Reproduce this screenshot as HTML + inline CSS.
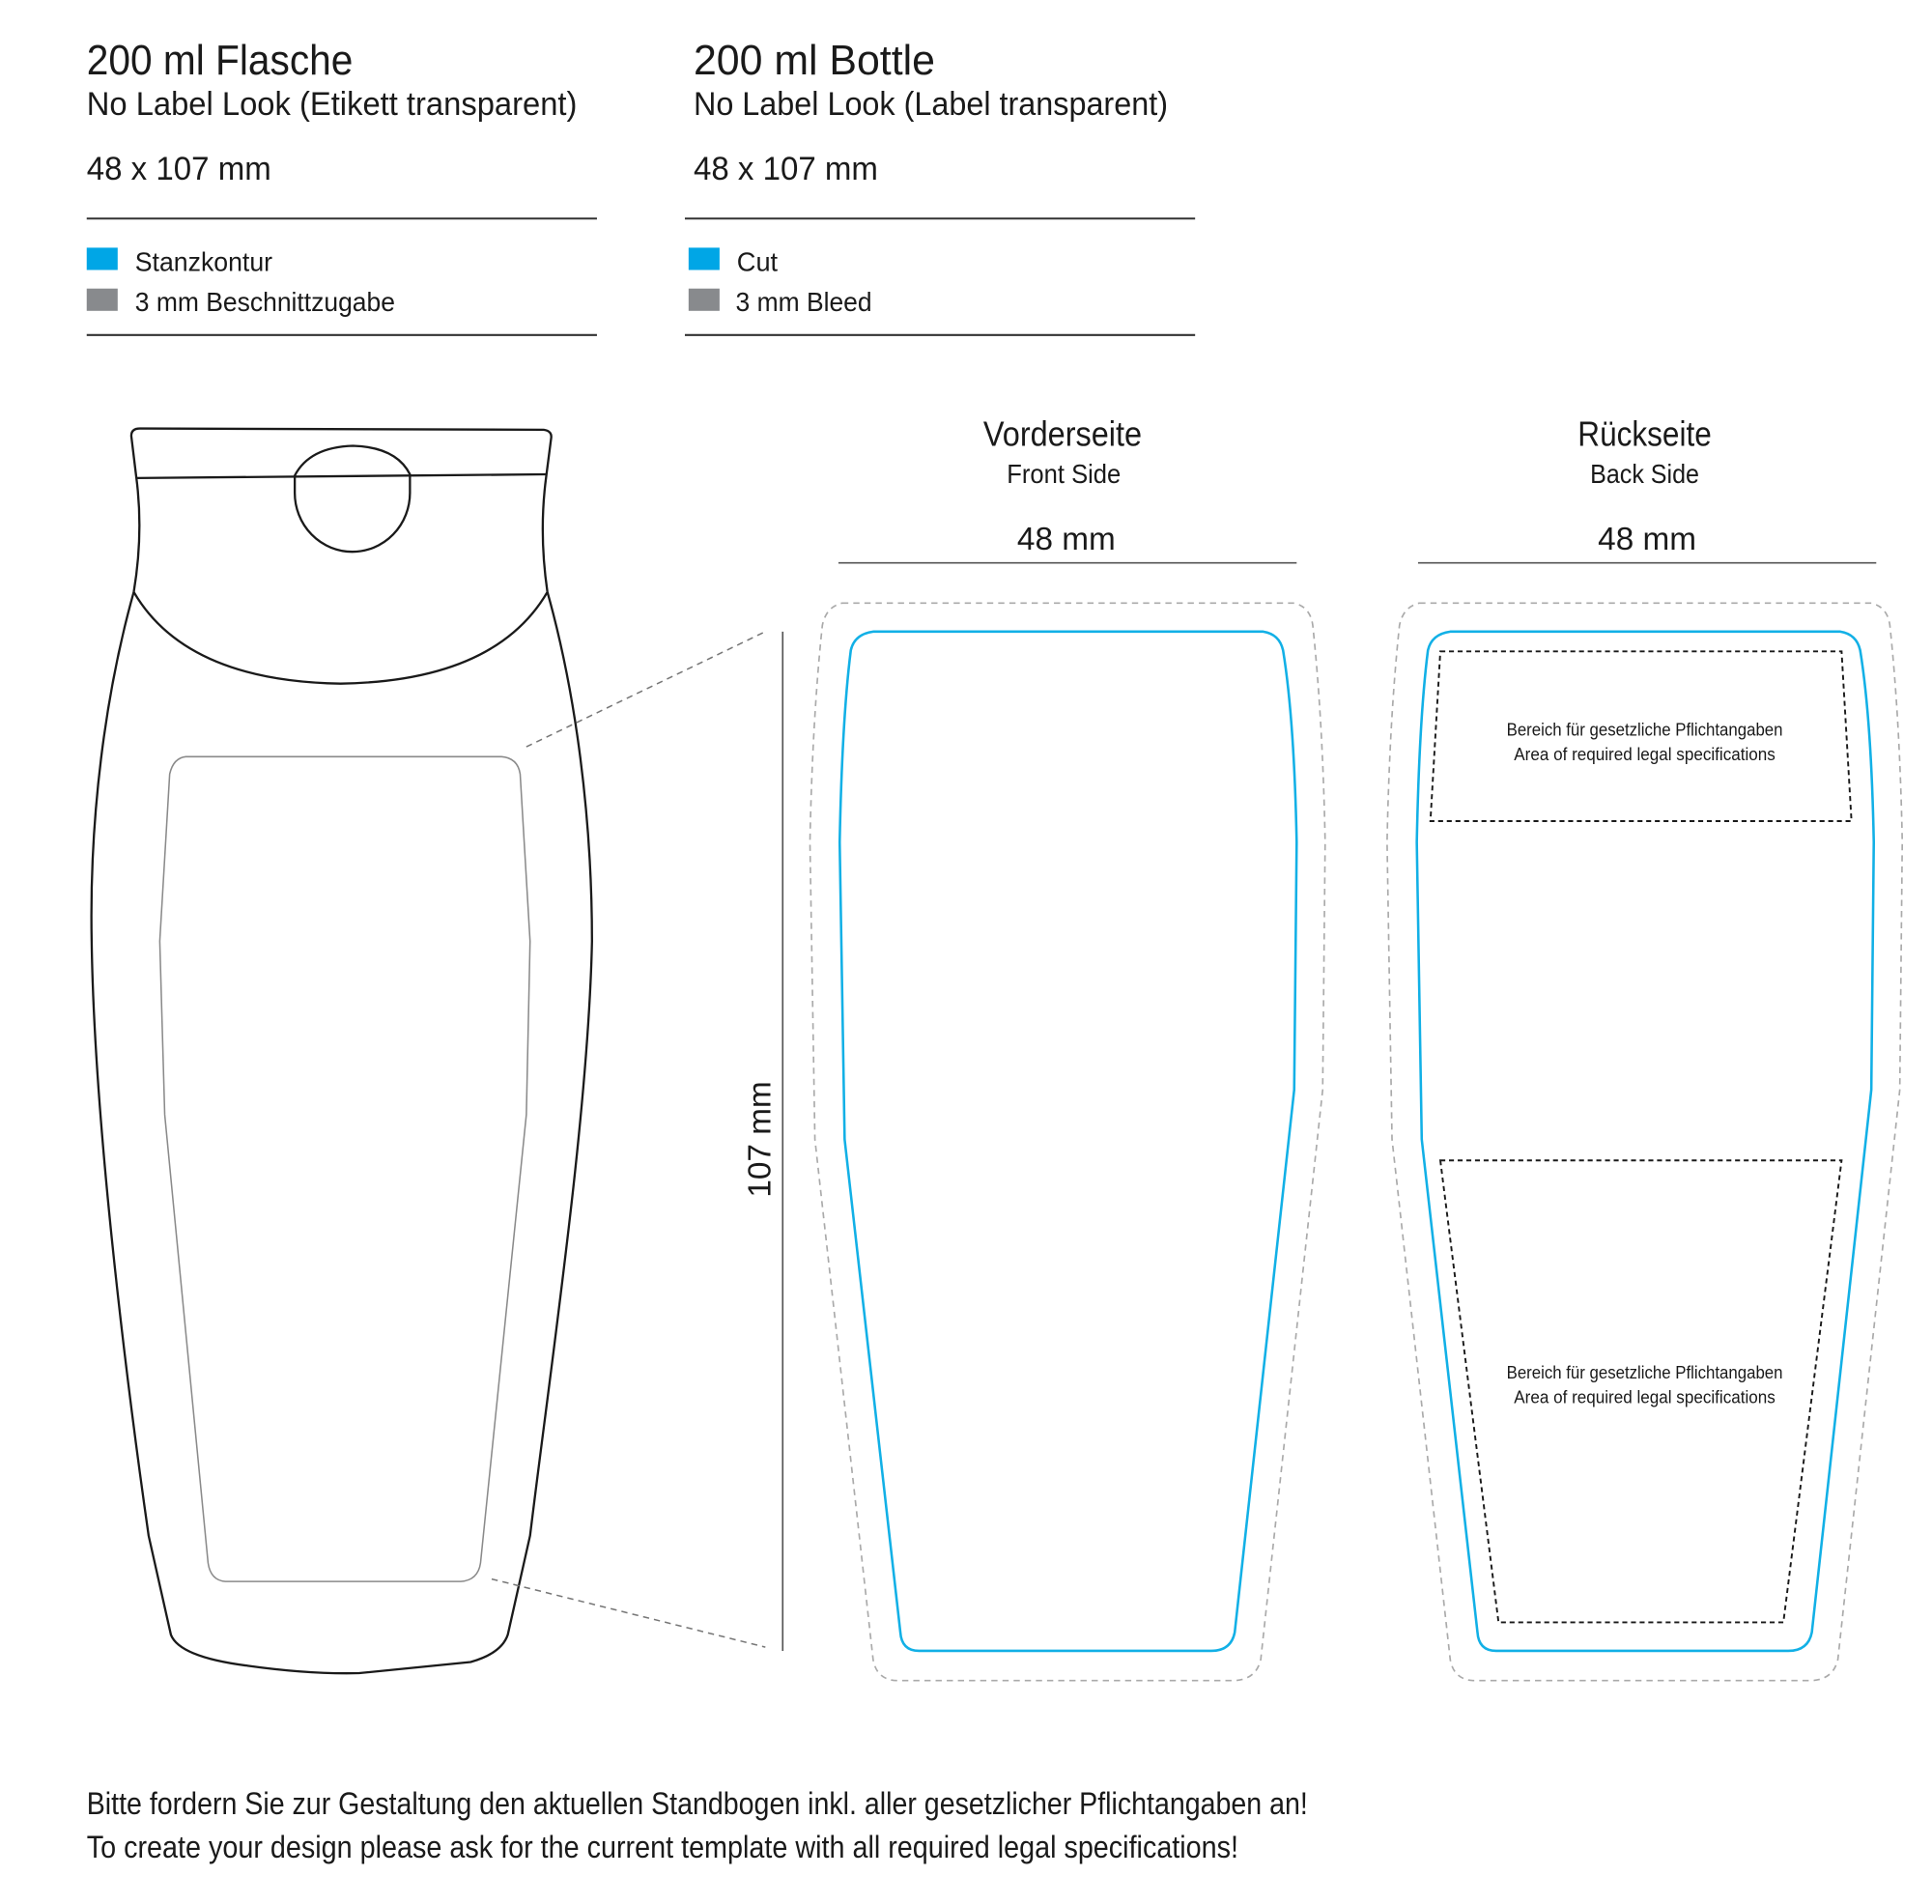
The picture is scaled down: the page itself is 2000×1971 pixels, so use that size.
<!DOCTYPE html>
<html><head><meta charset="utf-8"><style>
html,body{margin:0;padding:0;background:#fff;}
svg{display:block;}
.n{font-family:"Liberation Sans Narrow","Liberation Sans",sans-serif;fill:#1a1a1a;}
.r{font-family:"Liberation Sans",sans-serif;fill:#1a1a1a;}
</style></head><body>
<svg width="2000" height="1971" viewBox="0 0 1560 1537.4" xmlns="http://www.w3.org/2000/svg">
<rect width="1560" height="1538" fill="#fff"/>
<!-- header col 1 -->
<text class="n" x="70" y="60" font-size="34" textLength="215" lengthAdjust="spacingAndGlyphs">200 ml Flasche</text>
<text class="n" x="70" y="93" font-size="27" textLength="396" lengthAdjust="spacingAndGlyphs">No Label Look (Etikett transparent)</text>
<text class="n" x="70" y="145" font-size="27" textLength="149" lengthAdjust="spacingAndGlyphs">48 x 107 mm</text>
<line x1="70" y1="176.5" x2="482" y2="176.5" stroke="#333" stroke-width="1.6"/>
<rect x="70" y="200" width="25" height="18" fill="#00a6e6"/>
<text class="n" x="109" y="219" font-size="22" textLength="111" lengthAdjust="spacingAndGlyphs">Stanzkontur</text>
<rect x="70" y="233" width="25" height="18" fill="#888a8d"/>
<text class="n" x="109" y="251" font-size="22" textLength="210" lengthAdjust="spacingAndGlyphs">3 mm Beschnittzugabe</text>
<line x1="70" y1="270.5" x2="482" y2="270.5" stroke="#333" stroke-width="1.6"/>
<!-- header col 2 -->
<text class="n" x="560" y="60" font-size="34" textLength="195" lengthAdjust="spacingAndGlyphs">200 ml Bottle</text>
<text class="n" x="560" y="93" font-size="27" textLength="383" lengthAdjust="spacingAndGlyphs">No Label Look (Label transparent)</text>
<text class="n" x="560" y="145" font-size="27" textLength="149" lengthAdjust="spacingAndGlyphs">48 x 107 mm</text>
<line x1="553" y1="176.5" x2="965" y2="176.5" stroke="#333" stroke-width="1.6"/>
<rect x="556" y="200" width="25" height="18" fill="#00a6e6"/>
<text class="n" x="595" y="219" font-size="22" textLength="33" lengthAdjust="spacingAndGlyphs">Cut</text>
<rect x="556" y="233" width="25" height="18" fill="#888a8d"/>
<text class="n" x="594" y="251" font-size="22" textLength="110" lengthAdjust="spacingAndGlyphs">3 mm Bleed</text>
<line x1="553" y1="270.5" x2="965" y2="270.5" stroke="#333" stroke-width="1.6"/>

<!-- bottle -->
<g fill="none" stroke="#1a1a1a" stroke-width="1.8">
<path d="M108,478 Q116,430 110,385 L106,352 Q106,346 113,346 L439,347 Q446,348 445,354 L441,385 Q435,430 442,478"/>
<line x1="110" y1="386" x2="441" y2="383"/>
<path d="M238,384 Q250,361 285,360 Q320,361 331,383 L331,398 A46,47 0 0 1 238,398 Z"/>
<path d="M108,478 Q150,550 275,552 Q400,550 442,478"/>
<path d="M108,478 C85,560 72,660 74,760 C76,900 100,1100 120,1240 L138,1320 Q145,1338 200,1345 Q250,1352 290,1351 L380,1342 Q405,1335 410,1320 L428,1240 C445,1100 475,900 478,760 C478,660 465,560 442,478"/>
</g>
<path d="M150,611 L405,611 Q418,612 420,625 L428,760 L425,900 L388,1262 Q386,1276 372,1277 L182,1277 Q170,1276 168,1262 L133,900 L129,760 L137,625 Q140,612 150,611 Z" fill="none" stroke="#8a8a8a" stroke-width="1.2"/>
<g stroke="#777" stroke-width="1.2" stroke-dasharray="5,4">
<line x1="425" y1="603" x2="618" y2="510"/>
<line x1="397" y1="1275" x2="618" y2="1330"/>
</g>
<line x1="632" y1="510" x2="632" y2="1333" stroke="#555" stroke-width="1.3"/>
<text class="r" x="0" y="0" font-size="26" text-anchor="middle" transform="translate(622,920) rotate(-90)">107 mm</text>

<!-- labels headings -->
<text class="n" x="858" y="360" font-size="28" text-anchor="middle" textLength="128" lengthAdjust="spacingAndGlyphs">Vorderseite</text>
<text class="n" x="859" y="390" font-size="22" text-anchor="middle" textLength="92" lengthAdjust="spacingAndGlyphs">Front Side</text>
<text class="r" x="861" y="444" font-size="26" text-anchor="middle">48 mm</text>
<line x1="677" y1="454.5" x2="1047" y2="454.5" stroke="#555" stroke-width="1.3"/>
<text class="n" x="1328" y="360" font-size="28" text-anchor="middle" textLength="108" lengthAdjust="spacingAndGlyphs">Rückseite</text>
<text class="n" x="1328" y="390" font-size="22" text-anchor="middle" textLength="88" lengthAdjust="spacingAndGlyphs">Back Side</text>
<text class="r" x="1330" y="444" font-size="26" text-anchor="middle">48 mm</text>
<line x1="1145" y1="454.5" x2="1515" y2="454.5" stroke="#555" stroke-width="1.3"/>

<!-- shapes -->
<g id="lab">
<path d="M680,487 L1045,487 Q1058,490 1060,505 Q1068,580 1070,680 L1068,880 L1018,1340 Q1014,1357 995,1357 L725,1357 Q708,1357 705,1340 L658,920 L654,680 Q656,580 664,505 Q667,490 680,487 Z" fill="none" stroke="#aaa" stroke-width="1.3" stroke-dasharray="5,4"/>
<path d="M705,510 L1020,510 Q1033,512 1036,525 Q1045,580 1047,680 L1045,880 L997,1318 Q994,1333 978,1333 L742,1333 Q728,1333 727,1318 L682,920 L678,680 Q680,580 687,525 Q690,512 705,510 Z" fill="none" stroke="#12b0e6" stroke-width="2"/>
</g>
<use href="#lab" transform="translate(466,0)"/>
<g fill="none" stroke="#1a1a1a" stroke-width="1.5" stroke-dasharray="4,3">
<path d="M1163,526 L1487,526 L1495,663 L1155,663 Z"/>
<path d="M1163,937 L1487,937 L1440,1310 L1210,1310 Z"/>
</g>
<g class="n" font-size="14.5" text-anchor="middle">
<text x="1328" y="594" textLength="223" lengthAdjust="spacingAndGlyphs">Bereich für gesetzliche Pflichtangaben</text>
<text x="1328" y="614" textLength="211" lengthAdjust="spacingAndGlyphs">Area of required legal specifications</text>
<text x="1328" y="1113" textLength="223" lengthAdjust="spacingAndGlyphs">Bereich für gesetzliche Pflichtangaben</text>
<text x="1328" y="1133" textLength="211" lengthAdjust="spacingAndGlyphs">Area of required legal specifications</text>
</g>

<!-- footer -->
<text class="n" x="70" y="1465" font-size="25" textLength="986" lengthAdjust="spacingAndGlyphs">Bitte fordern Sie zur Gestaltung den aktuellen Standbogen inkl. aller gesetzlicher Pflichtangaben an!</text>
<text class="n" x="70" y="1500" font-size="25" textLength="930" lengthAdjust="spacingAndGlyphs">To create your design please ask for the current template with all required legal specifications!</text>
</svg>
</body></html>
